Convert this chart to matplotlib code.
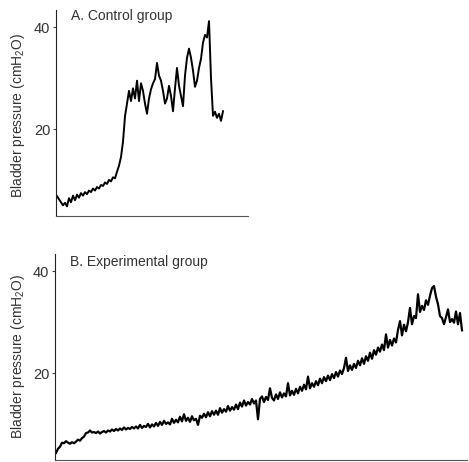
import matplotlib.pyplot as plt
import numpy as np

# bladder pressure traces (cmH2O), one reading every 2 time units
pressure_control = [
    6.8, 6.2, 5.6, 5.0, 5.5, 4.8, 6.4, 5.6, 6.9, 6.0,
    7.1, 6.5, 7.4, 6.9, 7.6, 7.2, 7.9, 7.6, 8.3, 7.9,
    8.6, 8.3, 9.0, 8.8, 9.5, 9.2, 10.0, 9.7, 10.5, 10.3,
    11.6, 12.8, 14.5, 17.5, 22.5, 25.0, 27.5, 25.5, 28.0, 26.0,
    29.5, 25.5, 29.0, 27.5, 25.0, 23.0, 26.0, 27.8, 29.0, 29.8,
    33.0, 30.5, 29.5, 27.5, 25.0, 26.0, 28.5, 26.5, 23.5, 28.0,
    32.0, 28.5, 26.5, 24.5, 30.5, 34.0, 35.8, 34.0, 31.5, 28.3,
    29.5, 32.0, 33.8, 37.0, 38.5, 38.0, 41.2, 30.0, 22.6, 23.4,
    22.2, 23.0, 21.6, 23.5,
]

pressure_experimental = [
    4.3, 5.1, 5.5, 6.3, 6.2, 6.6, 6.3, 6.1, 6.4, 6.2,
    6.5, 6.9, 6.7, 7.2, 7.5, 8.2, 8.3, 8.7, 8.3, 8.4,
    8.2, 8.5, 8.1, 8.4, 8.6, 8.3, 8.7, 8.5, 8.9, 8.6,
    9.0, 8.7, 9.1, 8.8, 9.3, 8.9, 9.2, 9.0, 9.4, 9.1,
    9.5, 9.1, 9.8, 9.2, 9.6, 9.4, 10.0, 9.3, 9.9, 9.5,
    10.2, 9.6, 10.4, 9.8, 10.6, 10.0, 10.3, 9.9, 11.0, 10.2,
    10.8, 10.3, 11.4, 10.5, 11.9, 10.6, 11.2, 10.4, 11.5, 10.7,
    11.0, 9.8, 11.6, 11.2, 12.0, 11.3, 12.3, 11.5, 12.5, 11.8,
    12.6, 11.8, 13.1, 12.2, 12.9, 12.4, 13.5, 12.6, 13.3, 12.8,
    13.8, 12.9, 14.2, 13.4, 14.6, 13.6, 14.3, 13.8, 14.9, 14.0,
    14.6, 10.9, 14.9, 15.4, 14.3, 15.3, 14.7, 17.0, 15.1, 14.6,
    15.8, 14.9, 16.2, 15.2, 16.0, 15.4, 18.0, 15.6, 16.5, 15.7,
    16.9, 16.0, 17.3, 16.5, 17.7, 16.8, 19.3, 17.0, 18.0, 17.3,
    18.4, 17.6, 18.9, 18.0, 19.2, 18.4, 19.5, 18.6, 19.8, 19.0,
    20.2, 19.3, 20.5, 19.8, 21.0, 23.0, 20.4, 21.5, 20.6, 21.8,
    21.0, 22.4, 21.5, 22.9, 21.8, 23.3, 22.4, 24.0, 22.8, 24.5,
    23.6, 25.0, 24.2, 25.6, 24.5, 27.6, 25.0, 26.5, 25.4, 26.8,
    26.0, 28.5, 30.2, 27.4, 29.5, 28.2, 30.0, 32.8, 29.6, 31.2,
    30.8, 35.5, 32.0, 33.2, 32.4, 34.3, 33.4, 35.2, 36.7, 37.1,
    35.0, 33.5, 31.2, 30.8, 29.6, 31.0, 32.5, 30.0, 30.6, 29.9,
    32.1, 29.6, 31.8, 28.4,
]

panel_titles = ['A. Control group', 'B. Experimental group']
ytick_values = [20, 40]

plt.rcParams['font.family'] = ['Liberation Sans', 'DejaVu Sans']

fig = plt.figure(figsize=(4.69, 4.62), dpi=100)

ax_a = fig.add_axes([56 / 469, 1 - 216 / 462, 192 / 469, 206 / 462])
ax_b = fig.add_axes([55 / 469, 1 - 460 / 462, 412 / 469, 206 / 462])

time_a = np.arange(len(pressure_control)) * 2
time_b = np.arange(len(pressure_experimental)) * 2

ax_a.plot(time_a, pressure_control, color='black', lw=1.4)
ax_b.plot(time_b, pressure_experimental, color='black', lw=1.6)

ax_a.set_xlim(-1, 191)
ax_b.set_xlim(-1, 411)

for ax in (ax_a, ax_b):
    ax.set_ylim(2.9, 43.4)
    ax.set_yticks(ytick_values)
    ax.set_xticks([])
    ax.spines['top'].set_visible(False)
    ax.spines['right'].set_visible(False)
    ax.spines['left'].set_color('#222222')
    ax.spines['bottom'].set_color('#555555')
    ax.tick_params(axis='y', length=2.5, width=0.8, pad=1.5,
                   labelsize=10.5, colors='#444444', labelcolor='#333333')

ylabel = 'Bladder pressure (cmH$_\\mathregular{2}$O)'
fig.text(18 / 469, 1 - 115 / 462, ylabel, rotation=90, ha='center', va='center',
         fontsize=10, color='#333333')
fig.text(18 / 469, 1 - 356 / 462, ylabel, rotation=90, ha='center', va='center',
         fontsize=10, color='#333333')

fig.text(71 / 469, 1 - 16 / 462, panel_titles[0], ha='left', va='center',
         fontsize=10, color='#333333')
fig.text(70 / 469, 1 - 262 / 462, panel_titles[1], ha='left', va='center',
         fontsize=10, color='#333333')

fig.savefig('out.png', dpi=100)
